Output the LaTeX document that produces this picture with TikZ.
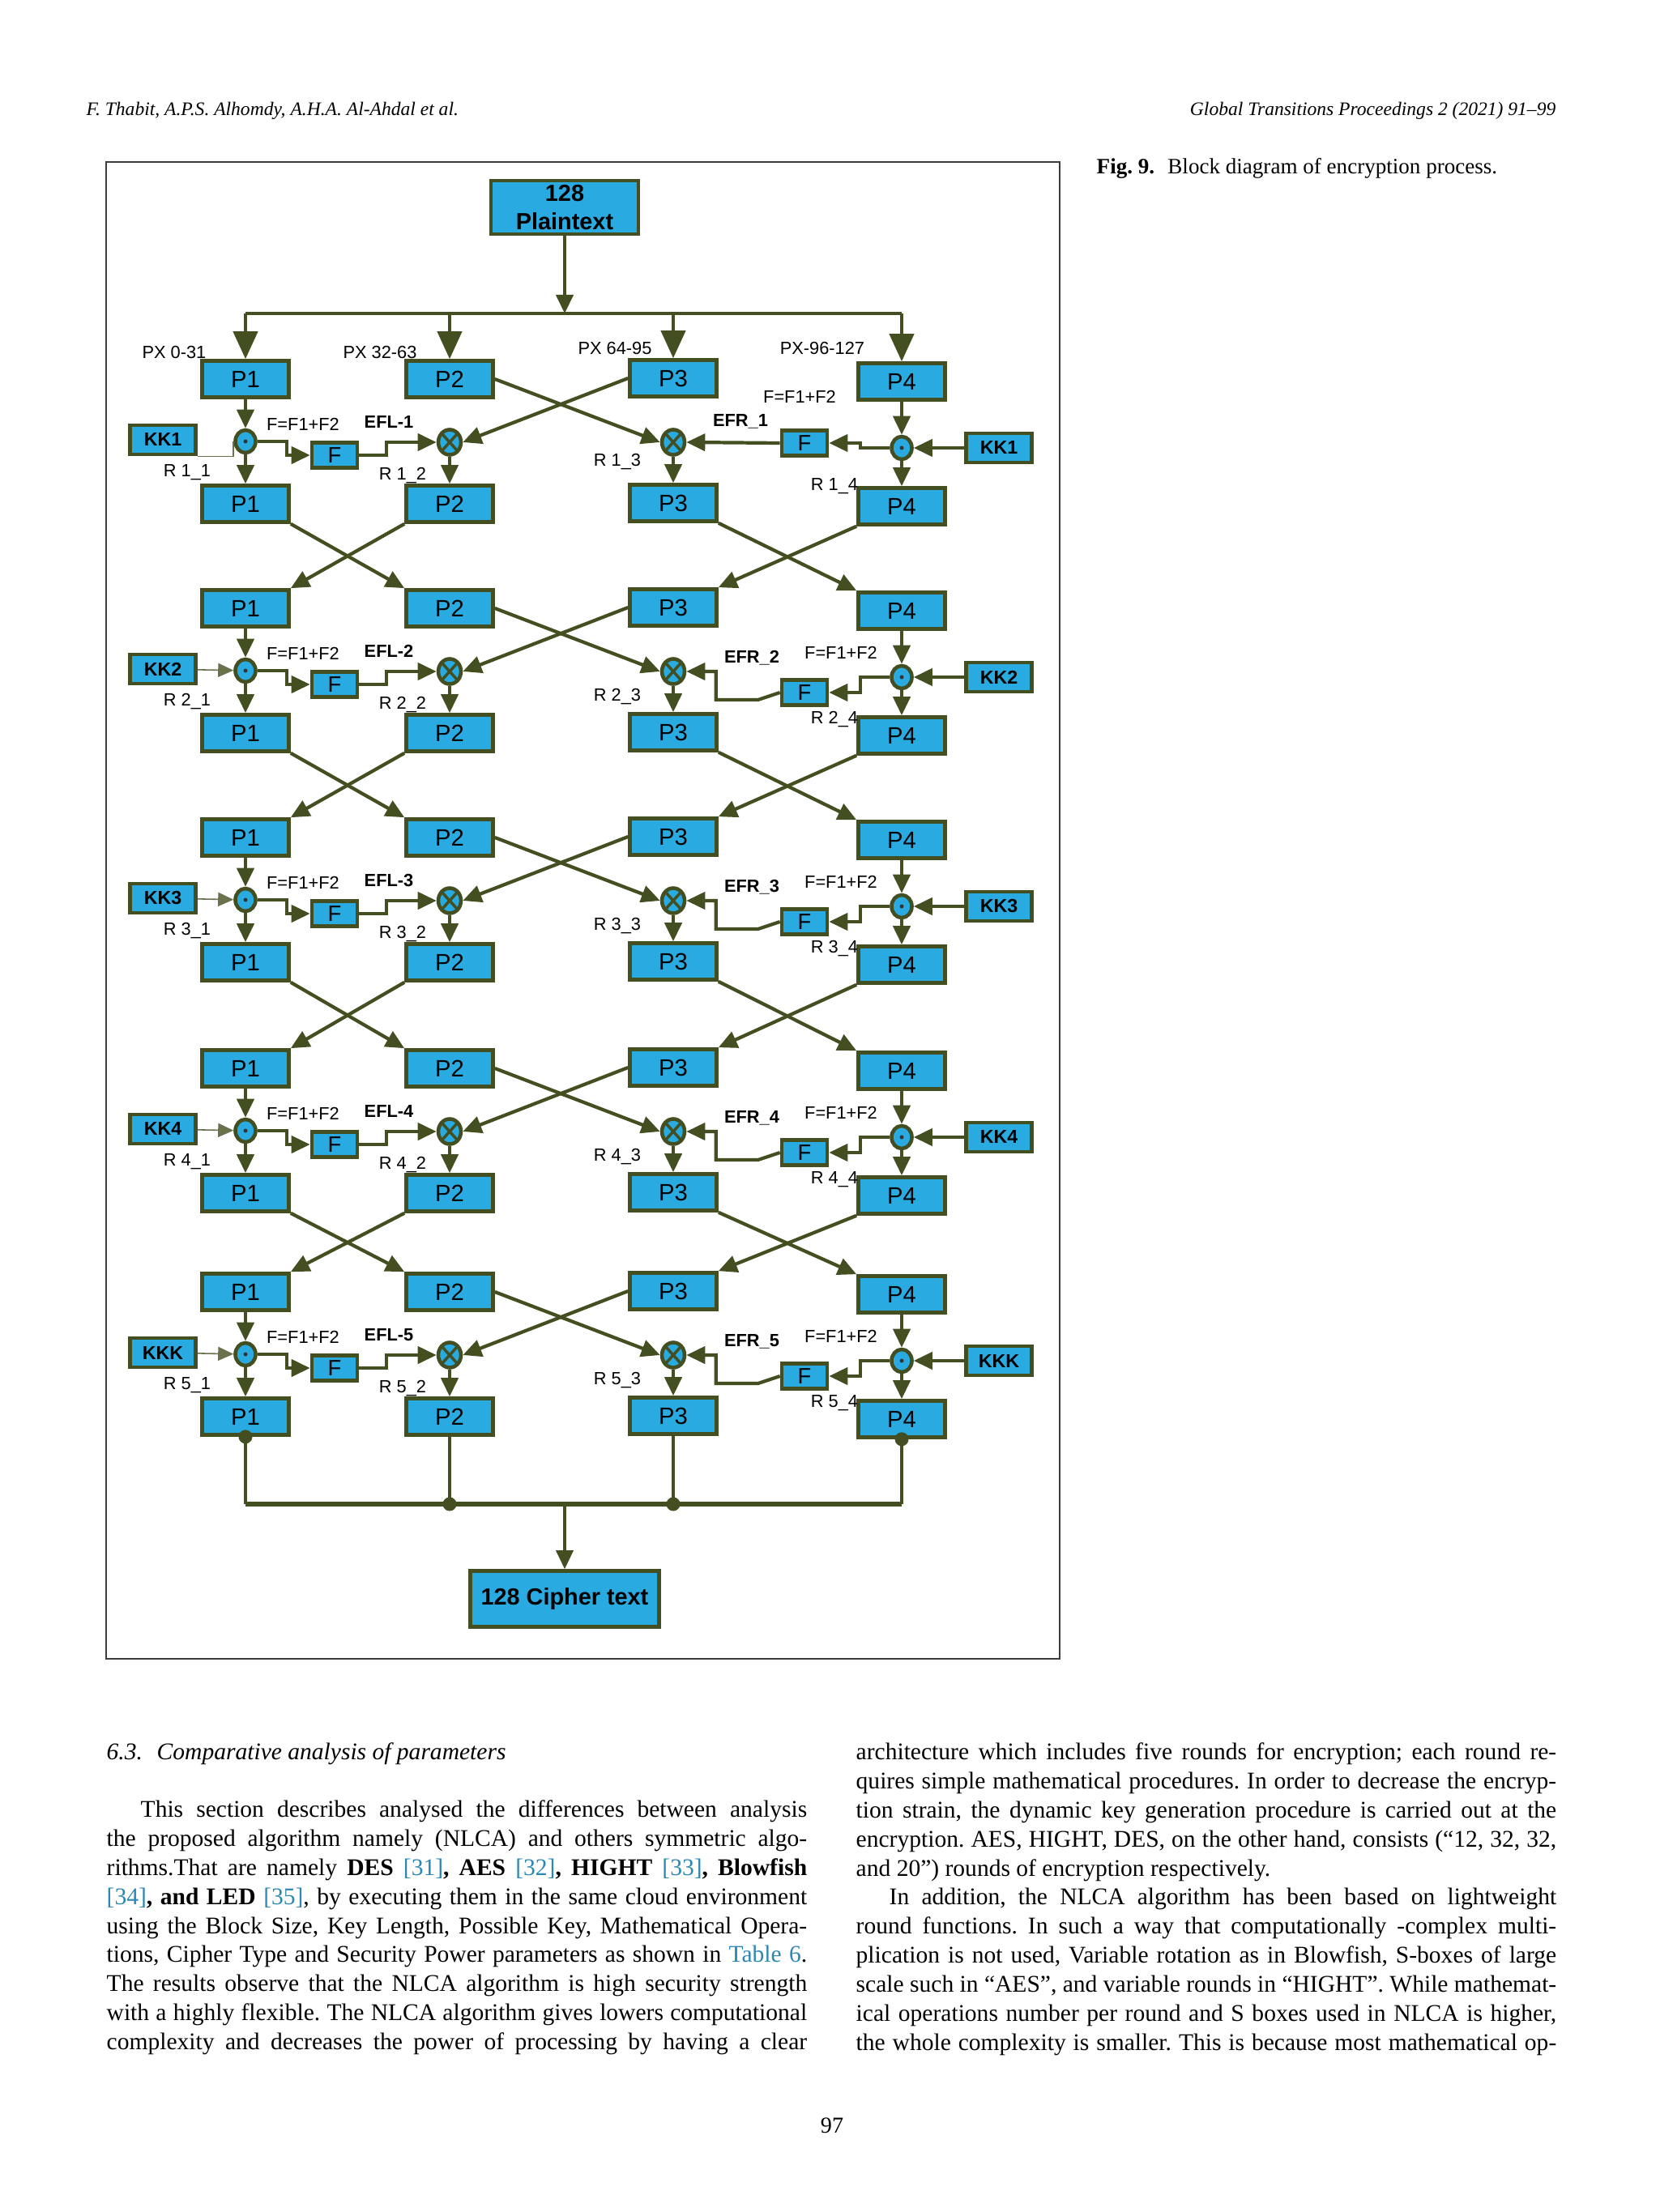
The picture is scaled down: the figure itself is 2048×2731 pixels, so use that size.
\documentclass[tikz,border=0pt]{standalone}
\usepackage{fontspec}
\usepackage{xcolor}
\usepackage{tikz}
\usetikzlibrary{arrows.meta,shapes.geometric}
\setmainfont{Liberation Serif}
\newfontfamily\arialf{Liberation Sans}
\frenchspacing

\definecolor{boxblue}{HTML}{29ABE2}
\definecolor{olivedk}{HTML}{434E21}
\definecolor{linkblue}{HTML}{2B87B3}
\definecolor{framegray}{HTML}{3C3C3C}

\newcommand{\lnk}[1]{\textcolor{linkblue}{#1}}
\newcommand{\jline}[1]{\makebox[8.64cm][s]{#1}}

\tikzset{
  pbox/.style={draw=olivedk, fill=boxblue, line width=1.3pt, inner sep=0pt,
    minimum width=1.07cm, minimum height=0.45cm, font=\arialf\fontsize{8.3}{9}\selectfont},
  fnode/.style={pbox, minimum width=0.56cm, minimum height=0.31cm, font=\arialf\fontsize{7.8}{8}\selectfont},
  kbox/.style={pbox, minimum width=0.81cm, minimum height=0.36cm, font=\arialf\bfseries\fontsize{6.6}{7}\selectfont},
  bigbox/.style={pbox, align=center, font=\arialf\bfseries\fontsize{8.2}{10}\selectfont},
  ringnode/.style={ellipse, draw=olivedk, fill=boxblue, line width=1.3pt, inner sep=0pt},
  dotc/.style={ringnode, minimum width=0.25cm, minimum height=0.28cm,
    path picture={\fill[black!80] (path picture bounding box.center) circle (0.025cm);}},
  xorc/.style={ringnode, minimum width=0.28cm, minimum height=0.31cm,
    path picture={\draw[olivedk, line width=1pt] (path picture bounding box.north west) -- (path picture bounding box.south east)
      (path picture bounding box.north east) -- (path picture bounding box.south west);}},
  lineol/.style={draw=olivedk, line width=1.2pt},
  flow/.style={lineol, -{Triangle[length=0.23cm, width=0.21cm]}},
  bigflow/.style={lineol, -{Triangle[length=0.34cm, width=0.3cm]}},
  thinln/.style={draw=olivedk!80, line width=0.45pt},
  legln/.style={draw=olivedk, line width=1pt},
  busln/.style={draw=olivedk, line width=1.7pt},
  lbl/.style={inner sep=0pt, font=\arialf\fontsize{6.2}{7}\selectfont},
  lblb/.style={inner sep=0pt, font=\arialf\bfseries\fontsize{6.2}{7}\selectfont},
  bodytxt/.style={anchor=base west, inner sep=0pt, font=\fontsize{8.4}{10.2}\selectfont},
}

\begin{document}
\begin{tikzpicture}[x=0.01cm, y=-0.01cm]
\useasboundingbox (0,0) rectangle (2048,2731);
\fill[white] (0,0) rectangle (2048,2731);

% page head and caption
\node[anchor=base west, inner sep=0pt, font=\itshape\fontsize{6.7}{8}\selectfont] (headl) at (106,143) {F. Thabit, A.P.S. Alhomdy, A.H.A. Al-Ahdal et al.};
\node[anchor=base east, inner sep=0pt, font=\itshape\fontsize{6.7}{8}\selectfont] (headr) at (1921,143) {Global Transitions Proceedings 2 (2021) 91–99};
\node[anchor=base west, inner sep=0pt, font=\fontsize{7.7}{9}\selectfont] (capt) at (1353,215) {\textbf{Fig. 9.}\hspace{0.6em}Block diagram of encryption process.};
\draw[framegray, line width=0.7pt] (131,200) rectangle (1308,2048);

% five rounds
\foreach \r/\m/\kn in {1/545/KK1, 2/828/KK2, 3/1111/KK3, 4/1396/KK4, 5/1672/KKK}{
  \ifnum\r=1
    \def\fry{2}\def\efrx{914}\def\efry{-25}\def\ffrx{987}\def\ffry{-55}\def\rthree{25}\def\rfour{55}
  \else
    \def\fry{27}\def\efrx{928}\def\efry{-16}\def\ffrx{1038}\def\ffry{-22}\def\rthree{32}\def\rfour{60}
  \fi
  \node[pbox] (P1t\r) at (303,\m-77) {P1};
  \node[pbox] (P2t\r) at (555,\m-77) {P2};
  \node[pbox] (P3t\r) at (831,\m-78) {P3};
  \node[pbox] (P4t\r) at (1113,\m-74) {P4};
  \node[pbox] (P1b\r) at (303,\m+77) {P1};
  \node[pbox] (P2b\r) at (555,\m+77) {P2};
  \node[pbox] (P3b\r) at (831,\m+76) {P3};
  \node[pbox] (P4b\r) at (1113,\m+80) {P4};
  \node[dotc] (dl\r) at (303,\m) {};
  \node[xorc] (xl\r) at (555,\m+1) {};
  \node[xorc] (xr\r) at (831,\m+1) {};
  \node[dotc] (dr\r) at (1113,\m+8) {};
  \node[fnode] (fl\r) at (413,\m+17) {F};
  \node[fnode] (fr\r) at (993,\m+\fry) {F};
  \node[kbox] (kl\r) at (201,\m-2) {\kn};
  \node[kbox] (kr\r) at (1233,\m+8) {\kn};
  \node[lbl] (ffl\r) at (374,\m-21) {F=F1+F2};
  \node[lblb] (efl\r) at (480,\m-24) {EFL-\r};
  \node[lbl] (rl1\r) at (231,\m+38) {R \r\_1};
  \node[lbl] (rl2\r) at (497,\m+42) {R \r\_2};
  \node[lbl] (rl3\r) at (762,\m+\rthree) {R \r\_3};
  \node[lbl] (rl4\r) at (1030,\m+\rfour) {R \r\_4};
  \node[lblb] (efr\r) at (\efrx,\m\efry) {EFR\_\r};
  \node[lbl] (ffr\r) at (\ffrx,\m\ffry) {F=F1+F2};
  \draw[flow] (P1t\r) -- (dl\r);
  \draw[flow] (dl\r) -- (P1b\r);
  \draw[flow] (P4t\r) -- (dr\r);
  \draw[flow] (dr\r) -- (P4b\r);
  \draw[flow] (xl\r) -- (P2b\r);
  \draw[flow] (xr\r) -- (P3b\r);
  \draw[flow] (P2t\r.east) -- (xr\r.west);
  \draw[flow] (P3t\r.west) -- (xl\r.east);
  \draw[flow] (dl\r.east) -- ++(36,0) |- (fl\r.west);
  \draw[flow] (fl\r.east) -- ++(34,0) |- (xl\r.west);
  \draw[flow] (kr\r) -- (dr\r);
  \draw[flow] (dr\r.west) -- ++(-36,0) |- (fr\r.east);
  \ifnum\r=1
    \draw[flow] (fr\r.west) -- (xr\r.east);
    \draw[thinln] (kl\r.south east) -| (dl\r.west);
  \else
    \draw[flow] (fr\r.west) -- ++(-27,9) -- ++(-52,0) |- (xr\r.east);
    \draw[thinln, -{Triangle[length=0.19cm, width=0.17cm]}] (kl\r) -- (dl\r);
  \fi
}

% swaps between rounds
\foreach \r [evaluate=\r as \nx using int(\r+1)] in {1,...,4}{
  \draw[flow] (P1b\r.south east) -- (P2t\nx.north west);
  \draw[flow] (P2b\r.south west) -- (P1t\nx.north east);
  \draw[flow] (P3b\r.south east) -- (P4t\nx.north west);
  \draw[flow] (P4b\r.south west) -- (P3t\nx.north east);
}

% input split
\node[bigbox, minimum width=1.82cm, minimum height=0.66cm] (plain) at (697,256) {128\\Plaintext};
\coordinate (topbus) at (697,387);
\draw[flow] (plain) -- (topbus);
\draw[lineol] (P1t1 |- topbus) -- (P4t1 |- topbus);
\foreach \k in {1,...,4}
  \draw[bigflow] (P\k t1 |- topbus) -- (P\k t1);
\node[lbl] (px1) at (215,435) {PX 0-31};
\node[lbl] (px2) at (469,435) {PX 32-63};
\node[lbl] (px3) at (759,430) {PX 64-95};
\node[lbl] (px4) at (1015,430) {PX-96-127};

% output join
\coordinate (botbus) at (697,1857);
\foreach \k in {1,...,4}
  \draw[legln] (P\k b5.south) -- (P\k b5.south |- botbus);
\draw[busln] (P1b5.south |- botbus) -- (P4b5.south |- botbus);
\fill[olivedk] (P1b5.south) circle (0.085cm) (P4b5.south) circle (0.085cm)
  (P2b5.south |- botbus) circle (0.085cm) (P3b5.south |- botbus) circle (0.085cm);
\node[bigbox, minimum width=2.33cm, minimum height=0.69cm] (ciph) at (697,1974) {128 Cipher text};
\draw[flow, line width=1pt] (botbus) -- (ciph);

% body text, left column
\node[bodytxt, font=\itshape\fontsize{8.4}{10.2}\selectfont] (sec) at (131,2172) {6.3.\hspace{0.6em}Comparative analysis of parameters};
\node[bodytxt] (la1) at (173,2243) {\makebox[8.22cm][s]{This section describes analysed the differences between analysis}};
\node[bodytxt] (la2) at (131,2279) {\jline{the proposed algorithm namely (NLCA) and others symmetric algo-}};
\node[bodytxt] (la3) at (131,2315) {\jline{rithms.That are namely \textbf{DES} \lnk{[31]}\textbf{,} \textbf{AES} \lnk{[32]}\textbf{,} \textbf{HIGHT} \lnk{[33]}\textbf{,} \textbf{Blowfish}}};
\node[bodytxt] (la4) at (131,2351) {\jline{\lnk{[34]}\textbf{, and LED} \lnk{[35]}, by executing them in the same cloud environment}};
\node[bodytxt] (la5) at (131,2387) {\jline{using the Block Size, Key Length, Possible Key, Mathematical Opera-}};
\node[bodytxt] (la6) at (131,2422) {\jline{tions, Cipher Type and Security Power parameters as shown in \lnk{Table 6}.}};
\node[bodytxt] (la7) at (131,2458) {\jline{The results observe that the NLCA algorithm is high security strength}};
\node[bodytxt] (la8) at (131,2494) {\jline{with a highly flexible. The NLCA algorithm gives lowers computational}};
\node[bodytxt] (la9) at (131,2530) {\jline{complexity and decreases the power of processing by having a clear}};

% body text, right column
\node[bodytxt] (rb1) at (1056,2172) {\jline{architecture which includes five rounds for encryption; each round re-}};
\node[bodytxt] (rb2) at (1056,2208) {\jline{quires simple mathematical procedures. In order to decrease the encryp-}};
\node[bodytxt] (rb3) at (1056,2244) {\jline{tion strain, the dynamic key generation procedure is carried out at the}};
\node[bodytxt] (rb4) at (1056,2280) {\jline{encryption. AES, HIGHT, DES, on the other hand, consists (“12, 32, 32,}};
\node[bodytxt] (rb5) at (1056,2316) {and 20”) rounds of encryption respectively.};
\node[bodytxt] (rb6) at (1097,2351) {\makebox[8.23cm][s]{In addition, the NLCA algorithm has been based on lightweight}};
\node[bodytxt] (rb7) at (1056,2387) {\jline{round functions. In such a way that computationally -complex multi-}};
\node[bodytxt] (rb8) at (1056,2423) {\jline{plication is not used, Variable rotation as in Blowfish, S-boxes of large}};
\node[bodytxt] (rb9) at (1056,2459) {\jline{scale such in “AES”, and variable rounds in “HIGHT”. While mathemat-}};
\node[bodytxt] (rb10) at (1056,2495) {\jline{ical operations number per round and S boxes used in NLCA is higher,}};
\node[bodytxt] (rb11) at (1056,2531) {\jline{the whole complexity is smaller. This is because most mathematical op-}};

\node[anchor=base, inner sep=0pt, font=\fontsize{8}{9}\selectfont] (pgno) at (1027,2633) {97};
\end{tikzpicture}
\end{document}
